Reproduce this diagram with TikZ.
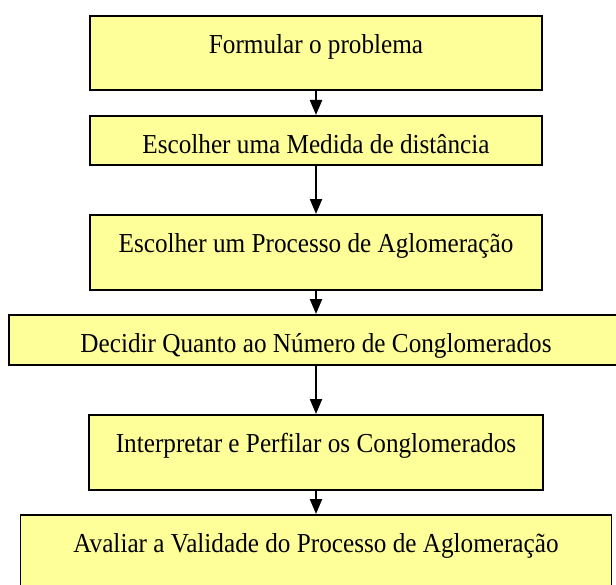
\documentclass[tikz,border=0pt]{standalone}
\usepackage{fontspec}
\setmainfont[FakeStretch=0.92]{Liberation Serif}
\usetikzlibrary{arrows.meta}
\definecolor{stepfill}{HTML}{FFFF99}

\begin{document}
\begin{tikzpicture}[x=1bp, y=-1bp,
    stepbox/.style={draw=black, line width=1.8bp, fill=stepfill, inner sep=0pt,
        anchor=north, text height=38bp, font=\fontsize{27.5}{30}\selectfont},
    flow/.style={line width=2.2bp, -{Triangle[length=15bp, width=12bp]}}]
        \useasboundingbox (0, 0) rectangle (616, 585);

        % --- Steps (top edge and size) ---
        \node[stepbox, minimum width=452bp, text depth=36bp] (formular) at (316, 15) {Formular o problema};
        \node[stepbox, minimum width=452bp, text depth=11bp] (medida) at (316, 115) {Escolher uma Medida de distância};
        \node[stepbox, minimum width=452bp, text depth=37bp] (processo) at (316, 214) {Escolher um Processo de Aglomeração};
        \node[stepbox, minimum width=614bp, text depth=12bp] (numero) at (316, 314) {Decidir Quanto ao Número de Conglomerados};
        \node[stepbox, minimum width=454bp, text depth=37bp] (perfil) at (316, 414) {Interpretar e Perfilar os Conglomerados};
        \node[stepbox, minimum width=591bp, text depth=40bp] (validade) at (316, 514) {Avaliar a Validade do Processo de Aglomeração};

        % --- Arrows between steps ---
        \draw[flow] (formular) -- (medida);
        \draw[flow] (medida) -- (processo);
        \draw[flow] (processo) -- (numero);
        \draw[flow] (numero) -- (perfil);
        \draw[flow] (perfil) -- (validade);
    \end{tikzpicture}
\end{document}
